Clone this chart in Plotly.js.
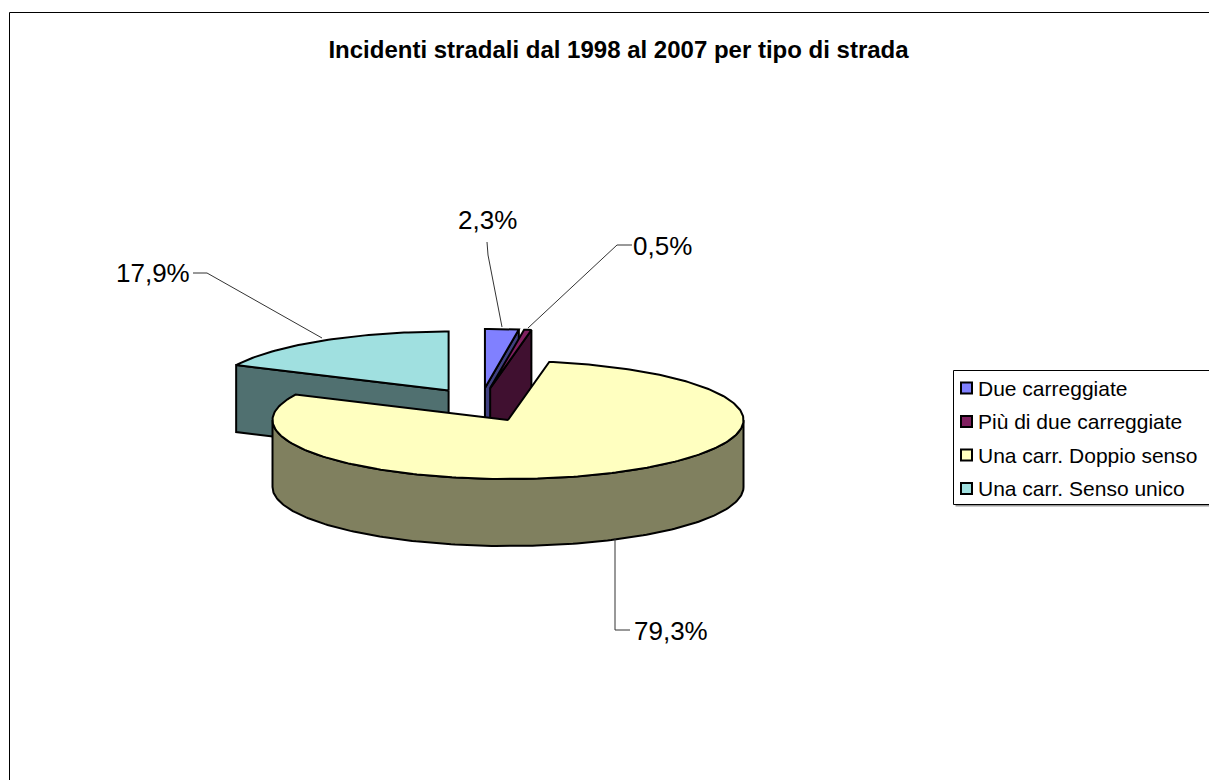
<!DOCTYPE html>
<html><head><meta charset="utf-8">
<script src="https://cdn.plot.ly/plotly-3.0.1.min.js"></script>
<style>html,body{margin:0;padding:0;background:#fff;} #chart{width:1209px;height:780px;}</style>
</head><body><div id="chart"></div>
<script>
// ---- data ----
const categories = ['Due carreggiate', 'Più di due carreggiate', 'Una carr. Doppio senso', 'Una carr. Senso unico'];
const percentages = [2.3, 0.5, 79.3, 17.9];
const labelTexts = percentages.map(p => p.toFixed(1).replace('.', ',') + '%');

// ---- styles ----
const topColors = ['#8080FF', '#802060', '#FFFFC0', '#A0E0E0'];
const sideColors = ['#404080', '#401030', '#80805F', '#507070'];
const FONT = 'Liberation Sans, Arial, sans-serif';

// ---- 3D pie projection (pixel space) ----
const G = {cx: 480.6, cy: 404.9, rx: 235.5, ry: 59, depth: 67, ex: 60, ey: 17};

const total = percentages.reduce((a, b) => a + b, 0);
let cum = 0;
const slices = percentages.map((v, i) => {
  const a0 = cum / total * 360; cum += v; const a1 = cum / total * 360;
  return {i, a0, a1, mid: (a0 + a1) / 2};
});
const rad = d => d * Math.PI / 180;
function apexOf(s) { return [G.cx + G.ex * Math.sin(rad(s.mid)), G.cy - G.ey * Math.cos(rad(s.mid))]; }
function rim(ap, a, dz) { return [ap[0] + G.rx * Math.sin(rad(a)), ap[1] - G.ry * Math.cos(rad(a)) + dz]; }
function arcPts(ap, a0, a1, dz) {
  const pts = []; const n = Math.max(2, Math.ceil(Math.abs(a1 - a0)));
  for (let k = 0; k <= n; k++) pts.push(rim(ap, a0 + (a1 - a0) * k / n, dz));
  return pts;
}
function poly(pts, color, name) {
  const x = pts.map(p => p[0]); const y = pts.map(p => p[1]);
  x.push(pts[0][0]); y.push(pts[0][1]);
  return {type: 'scatter', mode: 'lines', x, y, fill: 'toself', fillcolor: color, name,
    line: {color: '#000', width: 2}, hoverinfo: 'skip', showlegend: false};
}

const traces = [];
const order = slices.slice().sort((a, b) => apexOf(a)[1] - apexOf(b)[1]);
order.forEach(s => {
  const ap = apexOf(s);
  const apB = [ap[0], ap[1] + G.depth];
  const nm = categories[s.i];
  // outer curved side (front half)
  const s0 = Math.max(s.a0, 90), s1 = Math.min(s.a1, 270);
  if (s1 > s0) {
    const pts = arcPts(ap, s0, s1, 0).concat(arcPts(ap, s1, s0, G.depth));
    traces.push(poly(pts, sideColors[s.i], nm));
  }
  // radial faces
  if (Math.sin(rad(s.a0)) < -1e-6) {
    traces.push(poly([ap, rim(ap, s.a0, 0), rim(ap, s.a0, G.depth), apB], sideColors[s.i], nm));
  }
  if (Math.sin(rad(s.a1)) > 1e-6) {
    traces.push(poly([ap, rim(ap, s.a1, 0), rim(ap, s.a1, G.depth), apB], sideColors[s.i], nm));
  }
  // top face
  traces.push(poly([ap].concat(arcPts(ap, s.a0, s.a1, 0)), topColors[s.i], nm));
});

// ---- labels & leader lines (layout) ----
const labelPos = [[487, 220], [662, 246], [671, 631], [153, 273]];
const leaderPaths = [
  'M487,242 L488,255 L502,327',
  'M632,245 L617,245 L528,328',
  'M615,538 L615,630 L630,630',
  'M193,273 L207,273 L322,338'
];
const annotations = labelTexts.map((t, i) => ({
  text: t, x: labelPos[i][0], y: labelPos[i][1], xref: 'x', yref: 'y',
  xanchor: 'center', yanchor: 'middle', showarrow: false,
  font: {family: FONT, size: 26, color: '#000'}
}));
const shapes = leaderPaths.map(p => ({type: 'path', path: p, xref: 'x', yref: 'y',
  line: {color: '#333', width: 1}}));
shapes.push({type: 'rect', xref: 'x', yref: 'y', x0: 9.5, y0: 12.5, x1: 1300, y1: 900,
  line: {color: '#000', width: 1}, layer: 'below'});

// ---- legend (drawn box, keys and texts) ----
const LEG = {x0: 953.5, y0: 370.5, x1: 1260, y1: 504.5, keyX: 961, key: 11, textX: 976, rowY0: 388, rowStep: 33.5};
shapes.push({type: 'rect', xref: 'x', yref: 'y', x0: LEG.x0 + 2, y0: LEG.y0 + 2, x1: LEG.x1 + 2, y1: LEG.y1 + 2,
  line: {width: 0}, fillcolor: '#999'});
shapes.push({type: 'rect', xref: 'x', yref: 'y', x0: LEG.x0, y0: LEG.y0, x1: LEG.x1, y1: LEG.y1,
  line: {color: '#000', width: 1}, fillcolor: '#fff'});
categories.forEach((c, i) => {
  const yc = LEG.rowY0 + i * LEG.rowStep;
  shapes.push({type: 'rect', xref: 'x', yref: 'y', x0: LEG.keyX, x1: LEG.keyX + LEG.key,
    y0: yc - LEG.key / 2, y1: yc + LEG.key / 2, fillcolor: topColors[i], line: {color: '#000', width: 2}});
  annotations.push({text: c, x: LEG.textX, y: yc, xref: 'x', yref: 'y', xanchor: 'left', yanchor: 'middle',
    showarrow: false, font: {family: FONT, size: 21, color: '#000'}});
});

const layout = {
  width: 1209, height: 780,
  margin: {l: 0, r: 0, t: 0, b: 0, autoexpand: false},
  paper_bgcolor: '#fff', plot_bgcolor: '#fff',
  xaxis: {range: [0, 1209], visible: false, fixedrange: true},
  yaxis: {range: [780, 0], visible: false, fixedrange: true},
  title: {text: 'Incidenti stradali dal 1998 al 2007 per tipo di strada',
    x: 618.5 / 1209, xref: 'paper', xanchor: 'center',
    y: 1 - 50 / 780, yref: 'paper', yanchor: 'middle',
    font: {family: FONT, size: 24, weight: 'bold', color: '#000'}},
  showlegend: false,
  annotations, shapes,
  hovermode: false
};

Plotly.newPlot('chart', traces, layout, {displayModeBar: false, staticPlot: true});
</script>
</body></html>
